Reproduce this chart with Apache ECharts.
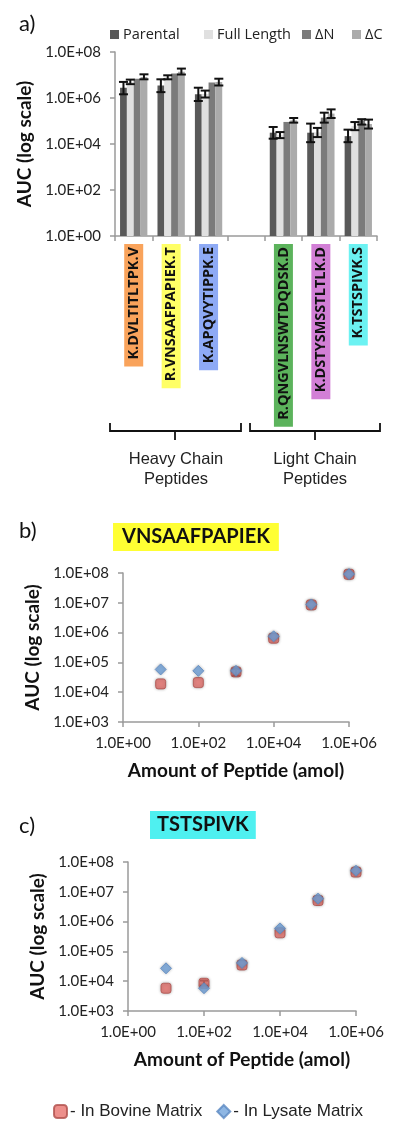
<!DOCTYPE html>
<html><head><meta charset="utf-8">
<script src="https://cdn.jsdelivr.net/npm/echarts@6/dist/echarts.min.js"></script>
<style>html,body{margin:0;padding:0;background:#fff}#c{width:400px;height:1125px}</style>
</head><body><div id="c"></div>
<script>
// ---------- Panel a data ----------
const categories = ['K.DVLTITLTPK.V','R.VNSAAFPAPIEK.T','K.APQVYTIPPK.E','','R.QNGVLNSWTDQDSK.D','K.DSTYSMSSTLTLK.D','K.TSTSPIVK.S'];
const labelColors = ['#f9a35b','#ffff66','#8eaaf5',null,'#5cb35c','#d27fd6','#6cf2f2'];
const seriesNames = ['Parental','Full Length','ΔN','ΔC'];
const parental   = [2.8e6, 3.5e6, 1.45e6, null, 3.1e4, 3.1e4, 2.2e4];
const fullLength = [5.0e6, 8.0e6, 1.5e6, null, 2.5e4, 3.2e4, 6.0e4];
const deltaN     = [6.9e6, 1.15e7, 4.7e6, null, 9.1e4, 1.4e5, 1.07e5];
const deltaC     = [8.2e6, 1.4e7, 5.0e6, null, 1.07e5, 2.1e5, 7.4e4];
// error bars [low, high]
const parentalErr   = [[1.45e6,5.0e6],[1.8e6,6.5e6],[7.4e5,2.8e6],null,[1.7e4,5.5e4],[1.2e4,7.7e4],[1.2e4,4.2e4]];
const fullLengthErr = [[4.0e6,6.3e6],[6.5e6,9.7e6],[1.05e6,2.1e6],null,[1.8e4,3.3e4],[2.0e4,5.0e4],[4.0e4,9.0e4]];
const deltaNErr     = [null,null,null,null,null,[8.5e4,2.3e5],[7.0e4,1.2e5]];
const deltaCErr     = [[6.5e6,1.07e7],[1.05e7,1.9e7],[3.5e6,6.9e6],null,[8.5e4,1.35e5],[1.35e5,3.2e5],[4.7e4,1.15e5]];
const barColors = ['#595959','#e0e0e0','#7b7b7b','#ababab'];

// ---------- Panel b / c data ----------
const amounts = [10, 100, 1000, 1e4, 1e5, 1e6];
const bovineB = [1.9e4, 2.1e4, 4.8e4, 6.5e5, 8.5e6, 9.0e7];
const lysateB = [5.8e4, 5.2e4, 5.2e4, 7.5e5, 8.8e6, 9.2e7];
const bovineBErr = [null, null, [3.6e4, 6.0e4], null, null, null];
const bovineC = [5.8e3, 8.5e3, 3.5e4, 4.2e5, 5.1e6, 4.6e7];
const lysateC = [2.7e4, 5.8e3, 4.1e4, 5.9e5, 5.9e6, 5.1e7];
const bovineCErr = [null, [7.0e3, 1.05e4], null, null, null, null];

const yTicksLabel = v => { const e = Math.round(Math.log10(v)); return '1.0E' + (e < 0 ? '-' : '+') + String(Math.abs(e)).padStart(2, '0'); };

const FONT = 'Lato';
const AX = '#9a9a9a';
const CAT_GAP = 0.27;

const allSeries = [parental, fullLength, deltaN, deltaC];
const allErr = [parentalErr, fullLengthErr, deltaNErr, deltaCErr];

function barErrSeries(i) {
  const data = [];
  allErr[i].forEach((e, k) => { if (e) data.push([k, e[0], e[1]]); });
  return {
    type: 'custom', xAxisIndex: 0, yAxisIndex: 0, z: 5, silent: true,
    encode: { x: 0, y: [1, 2] },
    data,
    renderItem(params, api) {
      const k = api.value(0), lo = api.value(1), hi = api.value(2);
      const p0 = api.coord([0, hi]), p1 = api.coord([1, hi]);
      const band = p1[0] - p0[0];
      const bw = band * (1 - CAT_GAP) / 4;
      const off = -2 * bw + bw * (i + 0.5);
      const t = api.coord([k, hi]), b = api.coord([k, lo]);
      const x = t[0] + off, hw = 4.5;
      const st = { stroke: '#111', lineWidth: 2 };
      return { type: 'group', children: [
        { type: 'line', shape: { x1: x, y1: t[1], x2: x, y2: b[1] }, style: st },
        { type: 'line', shape: { x1: x - hw, y1: t[1], x2: x + hw, y2: t[1] }, style: st },
        { type: 'line', shape: { x1: x - hw, y1: b[1], x2: x + hw, y2: b[1] }, style: st }
      ]};
    }
  };
}

function pointErrSeries(errs, axisIdx) {
  const data = [];
  errs.forEach((e, k) => { if (e) data.push([amounts[k], e[0], e[1]]); });
  return {
    type: 'custom', xAxisIndex: axisIdx, yAxisIndex: axisIdx, z: 1, silent: true,
    encode: { x: 0, y: [1, 2] }, data,
    renderItem(params, api) {
      const t = api.coord([api.value(0), api.value(2)]);
      const b = api.coord([api.value(0), api.value(1)]);
      const hw = 4, st = { stroke: '#111', lineWidth: 2 };
      return { type: 'group', children: [
        { type: 'line', shape: { x1: t[0], y1: t[1], x2: b[0], y2: b[1] }, style: st },
        { type: 'line', shape: { x1: t[0] - hw, y1: t[1], x2: t[0] + hw, y2: t[1] }, style: st },
        { type: 'line', shape: { x1: b[0] - hw, y1: b[1], x2: b[0] + hw, y2: b[1] }, style: st }
      ]};
    }
  };
}

const catLabelFont = { fontFamily: 'Open Sans', fontWeight: 'bold', fontSize: 14.5, lineHeight: 15, color: '#111' };
const catData = categories.map((c, k) => labelColors[k]
  ? { value: c, textStyle: Object.assign({ backgroundColor: labelColors[k], padding: [2, 3, 2, 7] }, catLabelFont) }
  : { value: c, textStyle: catLabelFont });

const tickFont = { fontFamily: FONT, fontSize: 15, color: '#222' };

const logYAxisCommon = (gi, min, max, base) => ({
  type: 'log', gridIndex: gi, logBase: base, min, max,
  splitLine: { show: false },
  axisLine: { show: true, lineStyle: { color: AX, width: 1.5 } },
  axisTick: { show: true, length: 5, lineStyle: { color: AX, width: 1.5 } },
  axisLabel: Object.assign({ formatter: yTicksLabel, margin: 14 }, tickFont),
  name: 'AUC (log scale)', nameLocation: 'middle', nameGap: 78,
  nameTextStyle: { fontFamily: FONT, fontWeight: 'bold', fontSize: 19, color: '#111' }
});

const logXAxisCommon = (gi) => ({
  type: 'log', gridIndex: gi, logBase: 100, min: 1, max: 1e6,
  splitLine: { show: false },
  axisLine: { show: true, lineStyle: { color: AX, width: 1.5 } },
  axisTick: { show: true, length: 5, lineStyle: { color: AX, width: 1.5 } },
  axisLabel: Object.assign({ formatter: yTicksLabel, margin: 14 }, tickFont),
  name: 'Amount of Peptide (amol)', nameLocation: 'middle', nameGap: 39,
  nameTextStyle: { fontFamily: FONT, fontWeight: 'bold', fontSize: 19, color: '#111' }
});

const bovStyle = { color: '#e8736e', borderColor: '#b0504c', borderWidth: 1, shadowBlur: 3, shadowColor: 'rgba(0,0,0,0.35)' };
const lysStyle = { color: '#72a4dc', borderColor: '#5b88c2', borderWidth: 1, shadowBlur: 3, shadowColor: 'rgba(0,0,0,0.3)' };

const legendLefts = [105, 199, 297, 347];
const option = {
  animation: false,
  backgroundColor: '#fff',
  title: [
    { text: 'a)', left: 14, top: 8, textStyle: { fontFamily: FONT, fontSize: 22, fontWeight: 'normal', color: '#111' } },
    { text: 'b)', left: 14, top: 515, textStyle: { fontFamily: FONT, fontSize: 22, fontWeight: 'normal', color: '#111' } },
    { text: 'c)', left: 14, top: 810, textStyle: { fontFamily: FONT, fontSize: 22, fontWeight: 'normal', color: '#111' } },
    { text: 'VNSAAFPAPIEK', left: 113, top: 523, padding: [4, 9], backgroundColor: '#ffff33',
      textStyle: { fontFamily: FONT, fontSize: 20, fontWeight: 'bold', color: '#111', lineHeight: 20 } },
    { text: 'TSTSPIVK', left: 150, top: 811, padding: [4, 7], backgroundColor: '#4ff0f0',
      textStyle: { fontFamily: FONT, fontSize: 20, fontWeight: 'bold', color: '#111', lineHeight: 20 } }
  ],
  legend: [
    ...seriesNames.map((n, i) => ({
      data: [n], left: legendLefts[i], top: 22, itemWidth: 9, itemHeight: 9, icon: 'rect',
      textStyle: { fontFamily: 'Open Sans', fontSize: 14.5, color: '#222', padding: [0, 0, 0, -1] } })),
    { data: [{ name: '- In Bovine Matrix', icon: 'roundRect' }, { name: '- In Lysate Matrix', icon: 'diamond' }],
      left: 48, top: 1098, itemWidth: 13, itemHeight: 13, itemGap: 14,
      textStyle: { fontFamily: 'Liberation Sans', fontSize: 17, color: '#222', padding: [0, 0, 0, -2] } }
  ],
  grid: [
    { left: 115, top: 52, width: 262, height: 184 },
    { left: 123, top: 573, width: 226, height: 149 },
    { left: 128, top: 862, width: 228, height: 149 }
  ],
  xAxis: [
    { type: 'category', gridIndex: 0, data: catData,
      axisLine: { show: true, lineStyle: { color: AX, width: 1.5 } },
      axisTick: { show: true, length: 5, lineStyle: { color: AX, width: 1.5 } },
      axisLabel: Object.assign({ interval: 0, rotate: 90, margin: 8 }, catLabelFont) },
    logXAxisCommon(1),
    logXAxisCommon(2)
  ],
  yAxis: [
    Object.assign(logYAxisCommon(0, 1, 1e8, 100), { nameGap: 80 }),
    Object.assign(logYAxisCommon(1, 1e3, 1e8, 10), { nameGap: 81 }),
    Object.assign(logYAxisCommon(2, 1e3, 1e8, 10), { nameGap: 80 })
  ],
  series: [
    ...allSeries.map((d, i) => ({
      type: 'bar', name: seriesNames[i], xAxisIndex: 0, yAxisIndex: 0, data: d,
      barCategoryGap: (CAT_GAP * 100) + '%', barGap: '0%',
      itemStyle: { color: barColors[i] }
    })),
    ...[0, 1, 2, 3].map(barErrSeries),
    pointErrSeries(bovineBErr, 1),
    pointErrSeries(bovineCErr, 2),
    { type: 'scatter', name: '- In Bovine Matrix', xAxisIndex: 1, yAxisIndex: 1, symbol: 'roundRect', symbolSize: 10,
      data: amounts.map((x, k) => [x, bovineB[k]]), itemStyle: bovStyle, z: 2 },
    { type: 'scatter', name: '- In Lysate Matrix', xAxisIndex: 1, yAxisIndex: 1, symbol: 'diamond', symbolSize: 11,
      data: amounts.map((x, k) => [x, lysateB[k]]), itemStyle: lysStyle, z: 3 },
    { type: 'scatter', name: '- In Bovine Matrix', xAxisIndex: 2, yAxisIndex: 2, symbol: 'roundRect', symbolSize: 10,
      data: amounts.map((x, k) => [x, bovineC[k]]), itemStyle: bovStyle, z: 2 },
    { type: 'scatter', name: '- In Lysate Matrix', xAxisIndex: 2, yAxisIndex: 2, symbol: 'diamond', symbolSize: 11,
      data: amounts.map((x, k) => [x, lysateC[k]]), itemStyle: lysStyle, z: 3 }
  ],
  graphic: [
    { type: 'polyline', shape: { points: [[110, 423], [110, 431], [241, 431], [241, 423]] }, style: { stroke: '#111', lineWidth: 1.8, fill: null } },
    { type: 'line', shape: { x1: 175, y1: 431, x2: 175, y2: 440 }, style: { stroke: '#111', lineWidth: 1.8 } },
    { type: 'polyline', shape: { points: [[250, 423], [250, 431], [380, 431], [380, 423]] }, style: { stroke: '#111', lineWidth: 1.8, fill: null } },
    { type: 'line', shape: { x1: 315, y1: 431, x2: 315, y2: 440 }, style: { stroke: '#111', lineWidth: 1.8 } },
    { type: 'text', x: 176, y: 469, style: { text: 'Heavy Chain\nPeptides', align: 'center', verticalAlign: 'middle',
      font: '16.5px "Liberation Sans"', fill: '#222', lineHeight: 20 } },
    { type: 'text', x: 315, y: 469, style: { text: 'Light Chain\nPeptides', align: 'center', verticalAlign: 'middle',
      font: '16.5px "Liberation Sans"', fill: '#222', lineHeight: 20 } }
  ]
};

const chart = echarts.init(document.getElementById('c'), null, { renderer: 'canvas' });
chart.setOption(option);
</script></body></html>
